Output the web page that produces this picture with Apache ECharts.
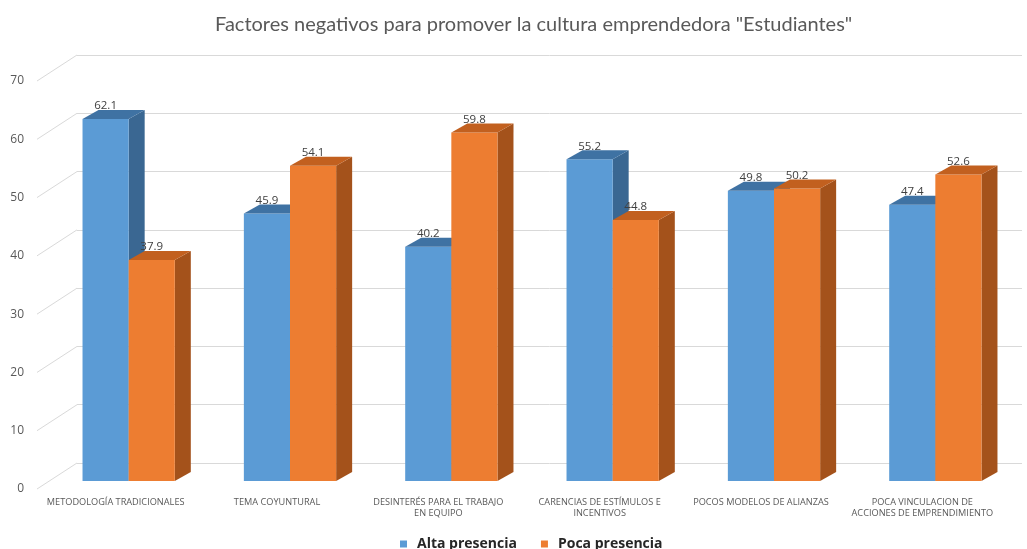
<!DOCTYPE html>
<html><head><meta charset="utf-8">
<script src="https://cdn.jsdelivr.net/npm/echarts@6/dist/echarts.min.js"></script>
<style>html,body{margin:0;padding:0;background:#fff}#c{width:1027px;height:549px}</style>
</head><body><div id="c"></div>
<script>
const titleText = 'Factores negativos para promover la cultura emprendedora "Estudiantes"';
const categories = [
  'METODOLOGÍA TRADICIONALES',
  'TEMA COYUNTURAL',
  'DESINTERÉS PARA EL TRABAJO\nEN EQUIPO',
  'CARENCIAS DE ESTÍMULOS E\nINCENTIVOS',
  'POCOS MODELOS DE ALIANZAS',
  'POCA VINCULACION DE\nACCIONES DE EMPRENDIMIENTO'
];
const seriesNames = ['Alta presencia', 'Poca presencia'];
const altaPresencia = [62.1, 45.9, 40.2, 55.2, 49.8, 47.4];
const pocaPresencia = [37.9, 54.1, 59.8, 44.8, 50.2, 52.6];
const yTicks = [0, 10, 20, 30, 40, 50, 60, 70];

const BLUE = {front: '#5B9BD5', top: '#3F72A3', side: '#3A6792'};
const ORANGE = {front: '#ED7D31', top: '#C2601F', side: '#A4521B'};
const DX = 16, DY = 9;

function makeBar(sideIdx, colors) {
  return function (params, api) {
    const i = api.value(0), v = api.value(1);
    const top = api.coord([i, v]);
    const base = api.coord([i, 0]);
    const band = api.size([1, 0])[0];
    const w = band * 0.286;
    const x0 = sideIdx === 0 ? top[0] - w : top[0];
    const x1 = x0 + w;
    const yT = top[1], yB = base[1];
    return {
      type: 'group',
      children: [
        {type: 'polygon', shape: {points: [[x1, yT], [x1 + DX, yT - DY], [x1 + DX, yB - DY], [x1, yB]]}, style: {fill: colors.side}},
        {type: 'rect', shape: {x: x0, y: yT, width: w, height: yB - yT}, style: {fill: colors.front}},
        {type: 'polygon', shape: {points: [[x0, yT], [x0 + DX, yT - DY], [x1 + DX, yT - DY], [x1, yT]]}, style: {fill: colors.top}},
        {type: 'text', z2: 10, style: {text: v.toFixed(1), x: (x0 + x1) / 2, y: yT - DY + 2, align: 'center', verticalAlign: 'bottom', fill: '#404040', font: '11.5px "Open Sans"'}}
      ]
    };
  };
}

function diagonal(params, api) {
  const v = api.value(1);
  const p = api.coord([0, v]);
  const x = params.coordSys.x;
  return {type: 'line', shape: {x1: x + 2, y1: p[1], x2: x + 42, y2: p[1] - 26}, style: {stroke: '#d9d9d9', lineWidth: 1}};
}

const chart = echarts.init(document.getElementById('c'));
chart.setOption({
  animation: false,
  backgroundColor: '#fff',
  title: {
    text: titleText, left: 210, top: 10,
    textStyle: {fontFamily: 'Lato', fontSize: 20, fontWeight: 'normal', color: '#595959'}
  },
  legend: {
    data: seriesNames, left: 395, top: 532, icon: 'rect', itemWidth: 7, itemHeight: 7, itemGap: 24,
    textStyle: {fontFamily: 'Open Sans', fontSize: 14, fontWeight: 'bold', color: '#262626', padding: [0, 0, 0, 5]}
  },
  grid: [
    {left: 48, right: 11, top: 73, bottom: 68},
    {left: 35, right: 24, top: 81, bottom: 60},
    {left: 77, right: 5, top: 55, bottom: 86}
  ],
  xAxis: [
    {type: 'category', gridIndex: 0, data: categories, show: false},
    {type: 'category', gridIndex: 1, data: categories, axisLine: {show: false}, axisTick: {show: false},
      axisLabel: {interval: 0, margin: 8, color: '#595959', fontFamily: 'Open Sans', fontSize: 9.2, lineHeight: 11}},
    {type: 'category', gridIndex: 2, data: categories, show: false}
  ],
  yAxis: [
    {type: 'value', gridIndex: 0, min: 0, max: 70, interval: 10, show: false},
    {type: 'value', gridIndex: 1, min: 0, max: 70, interval: 10, axisLine: {show: false}, axisTick: {show: false}, splitLine: {show: false},
      axisLabel: {margin: 11, color: '#595959', fontFamily: 'Open Sans', fontSize: 12}},
    {type: 'value', gridIndex: 2, min: 0, max: 70, interval: 10, axisLine: {show: false}, axisTick: {show: false}, axisLabel: {show: false},
      splitLine: {show: true, lineStyle: {color: '#d9d9d9', width: 1}}}
  ],
  series: [
    {type: 'custom', name: 'diag', xAxisIndex: 1, yAxisIndex: 1, silent: true, renderItem: diagonal,
      data: yTicks.map(t => [0, t]), z: 1},
    {type: 'custom', name: seriesNames[0], xAxisIndex: 0, yAxisIndex: 0, renderItem: makeBar(0, BLUE),
      itemStyle: {color: BLUE.front}, data: altaPresencia.map((v, i) => [i, v]), z: 3},
    {type: 'custom', name: seriesNames[1], xAxisIndex: 0, yAxisIndex: 0, renderItem: makeBar(1, ORANGE),
      itemStyle: {color: ORANGE.front}, data: pocaPresencia.map((v, i) => [i, v]), z: 4}
  ]
});
</script>
</body></html>
